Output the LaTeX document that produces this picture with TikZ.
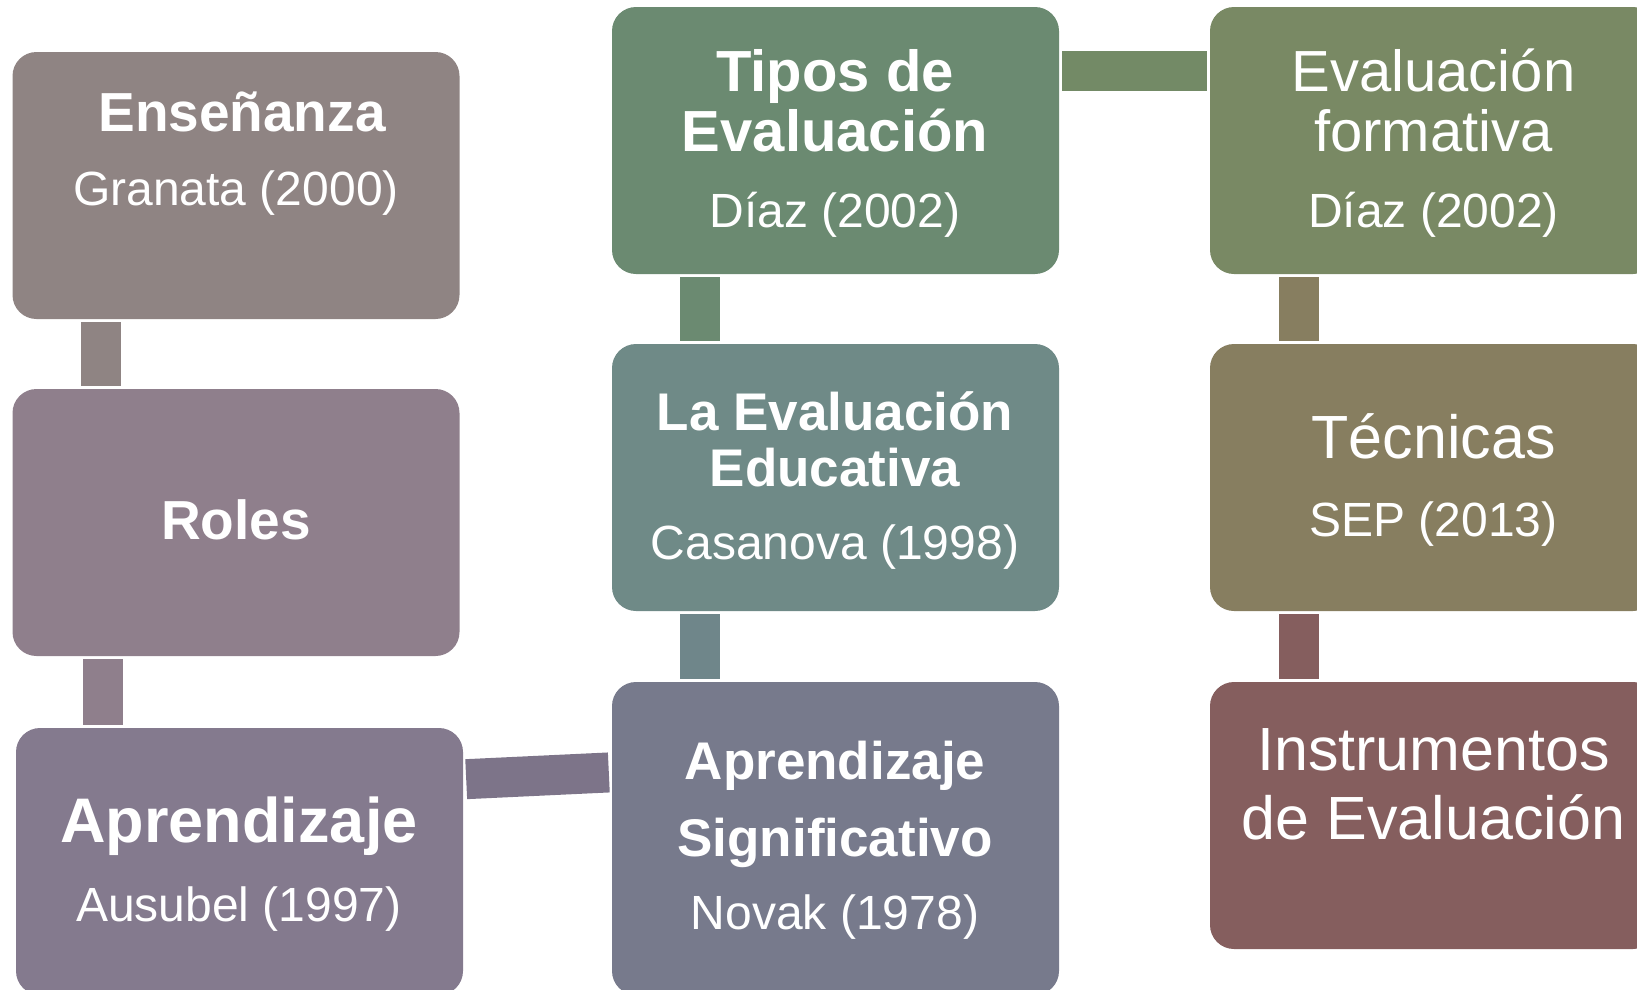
\documentclass[tikz,border=0pt]{standalone}
\usepackage{fontspec}
\setmainfont{Liberation Sans}
\definecolor{cEns}{HTML}{8F8483}
\definecolor{cRol}{HTML}{8F7F8C}
\definecolor{cApr}{HTML}{847A8E}
\definecolor{cSig}{HTML}{777A8C}
\definecolor{cEdu}{HTML}{6F8A87}
\definecolor{cTip}{HTML}{6B8A71}
\definecolor{cFor}{HTML}{798964}
\definecolor{cTec}{HTML}{877E60}
\definecolor{cIns}{HTML}{855E5E}
\definecolor{kBot}{HTML}{7D7489}
\definecolor{kEdu}{HTML}{6F868A}
\definecolor{kTop}{HTML}{738A66}
\begin{document}
\begin{tikzpicture}[x=1pt,y=-1pt,
  box/.style={rounded corners=24pt, minimum width=447pt, inner sep=0pt, draw=none},
  conn/.style={line width=40pt, shorten <=3pt, shorten >=3pt},
  txt/.style={text=white, anchor=base, inner sep=0pt},
  hbA/.style={font=\fontsize{55}{60}\selectfont\bfseries},
  hbB/.style={font=\fontsize{63}{68}\selectfont\bfseries},
  hbC/.style={font=\fontsize{58}{62}\selectfont\bfseries},
  hbD/.style={font=\fontsize{53}{58}\selectfont\bfseries},
  rgA/.style={font=\fontsize{48}{52}\selectfont},
  rgB/.style={font=\fontsize{58}{62}\selectfont},
  rgC/.style={font=\fontsize{61}{66}\selectfont}]
\useasboundingbox (0,0) rectangle (1637,989);
% boxes
\node[box, fill=cEns, minimum height=267pt] (ens) at (236,185.5) {};
\node[box, fill=cRol, minimum height=267pt] (rol) at (236,522.5) {};
\node[box, fill=cApr, minimum height=267pt] (apr) at (239.5,861.5) {};
\node[box, fill=cTip, minimum height=267pt] (tip) at (835.5,140.5) {};
\node[box, fill=cEdu, minimum height=267pt] (edu) at (835.5,477.5) {};
\node[box, fill=cSig, minimum height=313pt] (sig) at (835.5,838.5) {};
\node[box, fill=cFor, minimum height=267pt] (for) at (1433.5,140.5) {};
\node[box, fill=cTec, minimum height=267pt] (tec) at (1433.5,477.5) {};
\node[box, fill=cIns, minimum height=267pt] (ins) at (1433.5,815.5) {};
% connectors
\draw[conn, cEns] ([xshift=89pt]ens.south west) -- ([xshift=89pt]rol.north west);
\draw[conn, cRol] ([xshift=90.5pt]rol.south west) -- ([xshift=87pt]apr.north west);
\draw[conn, kBot] ([yshift=-51.5pt]apr.north east) -- ([yshift=-90.5pt]sig.north west);
\draw[conn, cTip] ([xshift=88pt]tip.south west) -- ([xshift=88pt]edu.north west);
\draw[conn, kEdu] ([xshift=88pt]edu.south west) -- ([xshift=88pt]sig.north west);
\draw[conn, kTop] ([yshift=-64pt]tip.north east) -- ([yshift=-64pt]for.north west);
\draw[conn, cTec] ([xshift=89.5pt]for.south west) -- ([xshift=89.5pt]tec.north west);
\draw[conn, cIns] ([xshift=89.5pt]tec.south west) -- ([xshift=89.5pt]ins.north west);
% texts column 1
\node[txt, hbA] (t1a) at (242,131) {Enseñanza};
\node[txt, rgA] (t1b) at (236,205.5) {Granata (2000)};
\node[txt, hbA] (t2a) at (236,539.5) {Roles};
\node[txt, hbB] (t3a) at (239,842) {Aprendizaje};
\node[txt, rgA] (t3b) at (239,921.5) {Ausubel (1997)};
% texts column 2
\node[txt, hbC] (t4a) at (835,91.5) {Tipos de};
\node[txt, hbC] (t4b) at (835,151) {Evaluación};
\node[txt, rgA] (t4c) at (835,227) {Díaz (2002)};
\node[txt, hbD] (t5a) at (835,430.5) {La Evaluación};
\node[txt, hbD] (t5b) at (835,486) {Educativa};
\node[txt, rgA] (t5c) at (835,559) {Casanova (1998)};
\node[txt, hbD] (t6a) at (835,779.5) {Aprendizaje};
\node[txt, hbD] (t6b) at (835,856.5) {Significativo};
\node[txt, rgA] (t6c) at (835,929.5) {Novak (1978)};
% texts column 3
\node[txt, rgB] (t7a) at (1433.5,91.5) {Evaluación};
\node[txt, rgB] (t7b) at (1433.5,151) {formativa};
\node[txt, rgA] (t7c) at (1433.5,227) {Díaz (2002)};
\node[txt, rgC] (t8a) at (1433.5,458.5) {Técnicas};
\node[txt, rgA] (t8b) at (1433.5,536) {SEP (2013)};
\node[txt, rgC] (t9a) at (1433.5,770) {Instrumentos};
\node[txt, rgC] (t9b) at (1433.5,839) {de Evaluación};
\end{tikzpicture}
\end{document}
